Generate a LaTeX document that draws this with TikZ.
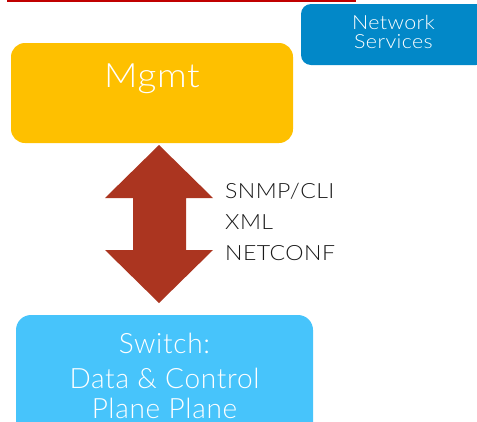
\documentclass[tikz,border=0pt]{standalone}
\usepackage{fontspec}
\setmainfont{Lato Light}
% a slightly wider cut of the same face for the short labels
\newfontfamily\widelato[FakeStretch=1.1, LetterSpace=2]{Lato Light}
\newfontfamily\spacedlato[LetterSpace=2.5]{Lato Light}

\definecolor{mgmtyellow}{HTML}{FEC000}
\definecolor{netblue}{HTML}{0288C8}
\definecolor{switchcyan}{HTML}{47C4FB}
\definecolor{arrowred}{HTML}{AB3520}
\definecolor{rulered}{HTML}{C00000}
\definecolor{labelgray}{HTML}{1A1A1A}

\tikzset{
  box/.style={rounded corners=#1, inner sep=0pt, draw=none},
  boxtext/.style={text=white, anchor=base, inner sep=0pt},
  protocol/.style={text=labelgray, anchor=base west, inner sep=0pt,
    font=\widelato\fontsize{21}{25}\selectfont},
  switchtext/.style={boxtext, font=\spacedlato\fontsize{28}{33}\selectfont},
}

\begin{document}
\begin{tikzpicture}[x=1pt, y=-1pt]
  \useasboundingbox (0,0) rectangle (477,421);

  % red rule along the top edge
  \coordinate (ruleL) at (7,1);
  \coordinate (ruleR) at (356,1);
  \draw[rulered, line width=2pt] (ruleL) -- (ruleR);

  % boxes
  \node[box=10pt, fill=netblue, minimum width=185pt, minimum height=61pt]
    (net) at (393.5,34.5) {};
  \node[box=14pt, fill=mgmtyellow, minimum width=282pt, minimum height=100pt]
    (mgmt) at (152,93) {};
  \node[box=15pt, fill=switchcyan, minimum width=297pt, minimum height=125pt]
    (switch) at (164.5,377.5) {};

  % box texts
  \node[boxtext, font=\widelato\fontsize{19.5}{23}\selectfont] (netA) at (393.5,29.5) {Network};
  \node[boxtext, font=\widelato\fontsize{19.5}{23}\selectfont] (netB) at (393.5,48) {Services};
  \node[boxtext, font=\widelato\fontsize{33.5}{40}\selectfont] (mgmtlabel) at (152,87) {Mgmt};
  \node[switchtext] (swA) at (164.5,353) {Switch:};
  \node[switchtext] (swB) at (164.5,388) {Data \& Control};
  \node[switchtext] (swC) at (164.5,418) {Plane Plane};

  % block double arrow between management and switch
  \coordinate (tipTop) at (159,145);
  \coordinate (tipBot) at (159,303);
  \fill[arrowred] (tipTop) -- (213,198) -- (186,198) -- (186,250) -- (213,250)
    -- (tipBot) -- (105,250) -- (133,250) -- (133,198) -- (105,198) -- cycle;

  % protocol labels
  \node[protocol] (snmp) at (225,198) {SNMP/CLI};
  \node[protocol] (xml) at (225,229) {XML};
  \node[protocol] (netconf) at (225,260) {NETCONF};
\end{tikzpicture}
\end{document}
